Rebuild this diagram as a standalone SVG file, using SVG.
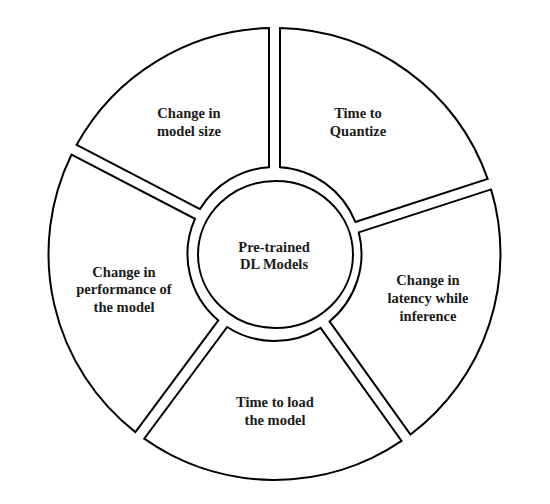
<svg xmlns="http://www.w3.org/2000/svg" width="550" height="504" viewBox="0 0 550 504">
<style>
.seg{fill:#fff;stroke:#000;stroke-width:2;stroke-linejoin:miter}
.lbl{font-family:"Liberation Serif","Times New Roman",serif;font-weight:bold;font-size:14.5px;fill:#1a1a1a;text-anchor:middle}
</style>
<rect width="550" height="504" fill="#fff"/>
<g id="connectors"></g>
<g id="seg-quantize">
<path class="seg" d="M280,167.17 L280,28.07 A226,226 0 0 1 487.67,178.95 L355.38,221.94 A87,87 0 0 0 280,167.17 Z"/>
<text class="lbl" x="358" y="118">Time to</text>
<text class="lbl" x="358" y="136">Quantize</text>
</g>
<g id="seg-latency">
<path class="seg" d="M358.78,232.4 L491.07,189.41 A226,226 0 0 1 410.49,434.5 L329.52,321.4 A87,87 0 0 0 358.78,232.4 Z"/>
<text class="lbl" x="428" y="285">Change in</text>
<text class="lbl" x="428" y="303">latency while</text>
<text class="lbl" x="428" y="321">inference</text>
</g>
<g id="seg-load">
<path class="seg" d="M320.58,327.8 L401.55,440.9 A226,226 0 0 1 144.22,438.66 L227.15,326.99 A87,87 0 0 0 320.58,327.8 Z"/>
<text class="lbl" x="275" y="407">Time to load</text>
<text class="lbl" x="275" y="425">the model</text>
</g>
<g id="seg-performance">
<path class="seg" d="M218.31,320.43 L135.38,432.1 A226,226 0 0 1 71.56,154.56 L194.94,218.79 A87,87 0 0 0 218.31,320.43 Z"/>
<text class="lbl" x="124" y="276.5">Change in</text>
<text class="lbl" x="124" y="294">performance of</text>
<text class="lbl" x="124" y="312">the model</text>
</g>
<g id="seg-size">
<path class="seg" d="M200.02,209.03 L76.64,144.8 A226,226 0 0 1 269,28.07 L269,167.17 A87,87 0 0 0 200.02,209.03 Z"/>
<text class="lbl" x="189" y="118">Change in</text>
<text class="lbl" x="189" y="136">model size</text>
</g>
<g id="center">
<ellipse class="seg" cx="275.5" cy="254.5" rx="77.5" ry="73.5"/>
<text class="lbl" x="274" y="251.5">Pre-trained</text>
<text class="lbl" x="274" y="269">DL Models</text>
</g>
</svg>
